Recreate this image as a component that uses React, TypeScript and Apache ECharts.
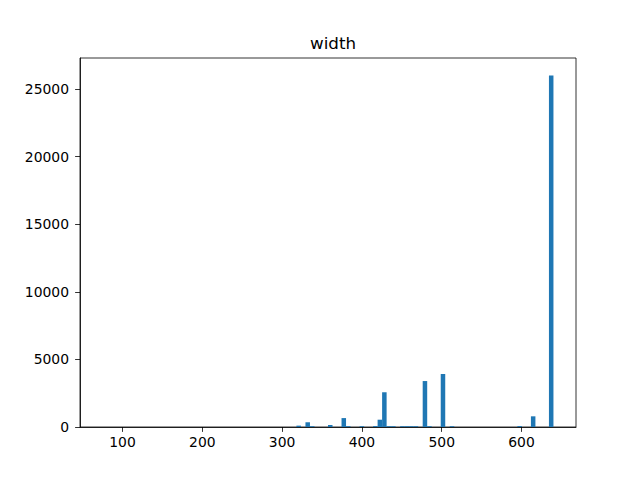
import React, { useEffect, useRef } from "react";
import * as echarts from "echarts";

const title = "width";
const binWidth = 5.65;
const binLefts = [
  317.95, 329.25, 334.9, 357.5, 374.45, 380.1, 397.05, 414.0, 419.65, 425.3,
  430.95, 436.6, 447.9, 453.55, 459.2, 464.85, 476.15, 481.8, 498.75, 510.05,
  594.8, 611.75, 634.35,
];
const counts = [
  100, 350, 60, 150, 660, 60, 60, 70, 540, 2570,
  60, 60, 60, 60, 60, 60, 3400, 60, 3920, 60,
  70, 790, 26000,
];
const xTicks = [100, 200, 300, 400, 500, 600];
const yTicks = [0, 5000, 10000, 15000, 20000, 25000];
const xRange = [46.75, 668.25];
const yRange = [0, 27300];

export default function App() {
  const ref = useRef<HTMLDivElement>(null);
  useEffect(() => {
    if (!ref.current) return;
    const chart = echarts.init(ref.current, null, { renderer: "svg" });
    const data = binLefts.map((l, i) => [l, l + binWidth, counts[i]]);
    const font = "DejaVu Sans";
    chart.setOption({
      animation: false,
      backgroundColor: "#ffffff",
      title: {
        text: title,
        left: 328,
        top: 29,
        textAlign: "center",
        textStyle: { fontFamily: font, fontSize: 16.7, fontWeight: "normal", color: "#000" },
      },
      grid: {
        left: 80,
        right: 64,
        top: 58,
        bottom: 53,
        show: true,
        borderColor: "#000",
        borderWidth: 0.8,
        backgroundColor: "transparent",
      },
      xAxis: {
        type: "value",
        min: xRange[0],
        max: xRange[1],
        splitLine: { show: false },
        axisLine: { show: true, onZero: false, lineStyle: { color: "#000", width: 0.8 } },
        axisTick: { show: true, length: 4.9, customValues: xTicks, lineStyle: { color: "#000", width: 0.8 } },
        axisLabel: {
          customValues: xTicks,
          margin: 8,
          color: "#000",
          fontFamily: font,
          fontSize: 13.9,
          formatter: (v: number) => String(v),
        },
      },
      yAxis: {
        type: "value",
        min: yRange[0],
        max: yRange[1],
        splitLine: { show: false },
        axisLine: { show: true, lineStyle: { color: "#000", width: 0.8 } },
        axisTick: { show: true, length: 4.9, customValues: yTicks, lineStyle: { color: "#000", width: 0.8 } },
        axisLabel: {
          customValues: yTicks,
          margin: 11,
          color: "#000",
          fontFamily: font,
          fontSize: 13.9,
          formatter: (v: number) => String(v),
        },
      },
      series: [
        {
          type: "custom",
          data,
          encode: { x: [0, 1], y: 2 },
          renderItem: (params: any, api: any) => {
            const p0 = api.coord([api.value(0), api.value(2)]);
            const p1 = api.coord([api.value(1), 0]);
            return {
              type: "rect",
              shape: { x: p0[0], y: p0[1], width: p1[0] - p0[0], height: p1[1] - p0[1] },
              style: { fill: "#1f77b4" },
            };
          },
        },
      ],
    });
    return () => chart.dispose();
  }, []);
  return (
    <div
      ref={ref}
      style={{ position: "fixed", left: 0, top: 0, width: 640, height: 480 }}
    />
  );
}
